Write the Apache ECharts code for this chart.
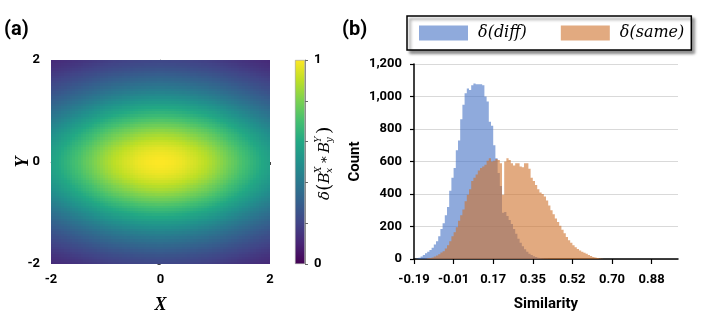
<!DOCTYPE html>
<html><head><meta charset="utf-8">
<script src="https://cdn.jsdelivr.net/npm/echarts@6/dist/echarts.min.js"></script>
<style>html,body{margin:0;padding:0;background:#fff}#c{width:708px;height:326px}</style>
</head><body><div id="c"></div>
<script>
// ---------- Panel (a): heat map, read as a product of two profiles (X row at Y=0, Y column at X=0) ----------
const cellStep = 0.05;
const cellCenters = Array.from({length:80}, (_, i) => -1.975 + i * cellStep);
const xProfile = [0.572,0.585,0.598,0.613,0.628,0.643,0.658,0.673,0.688,0.703,0.718,0.733,0.748,0.763,0.778,0.793,0.808,0.823,0.838,0.851,
  0.864,0.877,0.889,0.9,0.91,0.92,0.93,0.938,0.946,0.954,0.962,0.97,0.977,0.982,0.987,0.991,0.994,0.997,0.999,1.0,
  1.0,0.999,0.997,0.994,0.991,0.987,0.982,0.977,0.97,0.962,0.954,0.946,0.938,0.93,0.92,0.91,0.9,0.889,0.877,0.864,
  0.851,0.838,0.823,0.808,0.793,0.778,0.763,0.748,0.733,0.718,0.703,0.688,0.673,0.658,0.643,0.628,0.613,0.598,0.585,0.572];
const yProfile = [0.214,0.228,0.242,0.258,0.276,0.295,0.315,0.334,0.354,0.376,0.399,0.421,0.443,0.467,0.493,0.517,0.541,0.569,0.597,0.622,
  0.647,0.674,0.701,0.727,0.752,0.778,0.803,0.827,0.849,0.87,0.89,0.909,0.927,0.943,0.959,0.971,0.981,0.988,0.994,0.999,
  0.999,0.994,0.988,0.981,0.971,0.959,0.943,0.927,0.909,0.89,0.87,0.849,0.827,0.803,0.778,0.752,0.727,0.701,0.674,0.647,
  0.622,0.597,0.569,0.541,0.517,0.493,0.467,0.443,0.421,0.399,0.376,0.354,0.334,0.315,0.295,0.276,0.258,0.242,0.228,0.214];
const heatTickLabels = ['-2','0','2'];
const colorbarTickLabels = ['0','1'];

// ---------- Panel (b): histogram (120 bins from -0.19 to 1.00) ----------
const binStart = -0.19, binWidth = 1.19 / 120, binsPerTick = 18;
const simTickLabels = ['-0.19','-0.01','0.17','0.35','0.52','0.70','0.88'];
const diffCounts = [0,3,8,15,25,35,45,55,70,90,
  110,140,185,220,270,320,420,500,560,670,
  730,860,950,1020,1050,1040,1070,1080,1075,1075,
  1075,1070,1000,970,845,820,700,620,530,450,
  285,290,265,240,215,185,155,125,100,78,
  60,45,33,24,17,12,8,5,3,2,
  1,0,0,0,0,0,0,0,0,0,
  0,0,0,0,0,0,0,0,0,0, 0,0,0,0,0,0,0,0,0,0, 0,0,0,0,0,0,0,0,0,0,
  0,0,0,0,0,0,0,0,0,0, 0,0,0,0,0,0,0,0,0,0];
const sameCounts = [0,0,0,0,0,2,4,6,10,15,
  22,30,40,48,65,85,110,140,165,195,
  235,270,305,355,395,430,480,500,520,545,
  560,570,580,605,620,600,605,615,610,590,
  395,600,620,610,590,575,590,590,570,565,
  590,590,555,500,480,455,430,410,400,385,
  360,330,300,275,250,228,205,180,158,135,
  115,100,85,72,62,52,45,38,32,24,
  18,13,9,6,3,1,0,0,0,0,
  0,0,0,0,0,0,0,0,0,0, 0,0,0,0,0,0,0,0,0,0, 0,0,0,0,0,0,0,0,0,0];
const seriesNames = ['δ(diff)','δ(same)'];

const viridis = ['#440154','#482475','#414487','#355f8d','#2a788e','#21918c','#22a884','#44bf70','#7ad151','#bddf26','#fde725'];
const BLUE = 'rgba(68,114,196,0.6)', ORANGE = 'rgba(207,113,43,0.6)';

const simTickValues = simTickLabels.map((_, k) => binStart + k * binsPerTick * binWidth);
const binEnd = binStart + diffCounts.length * binWidth;
const cells = [];
for (let i = 0; i < cellCenters.length; i++)
  for (let j = 0; j < cellCenters.length; j++)
    cells.push([cellCenters[i], cellCenters[j], xProfile[i] * yProfile[j]]);
const half = cellStep / 2;

const LBL = {fontFamily:'Roboto', fontWeight:'bold', fontSize:13, color:'#000'};
const chart = echarts.init(document.getElementById('c'), null, {renderer:'canvas'});

const F = (sz, it) => (it ? 'italic ' : '') + sz + 'px "DejaVu Serif"';
function t(x, y, text, font) {
  return {type:'text', x:x, y:y, style:{text:text, font:font, fill:'#000', align:'left', textAlign:'left', verticalAlign:'middle', textVerticalAlign:'middle'}};
}
// histogram as one stepped polygon; bin edges and heights go through the axis scales
function histRender(counts, color) {
  return (params, api) => {
    const pts = [api.coord([binStart, 0])];
    counts.forEach((c, i) => {
      pts.push(api.coord([binStart + i * binWidth, c]), api.coord([binStart + (i + 1) * binWidth, c]));
    });
    pts.push(api.coord([binStart + counts.length * binWidth, 0]));
    return {type:'polygon', shape:{points:pts}, style:{fill:color, stroke:null, lineWidth:0}};
  };
}

chart.setOption({
  animation:false,
  grid:[
    {left:51, top:60, width:219, height:204},
    {left:295, top:60, width:10, height:204},
    {left:414, top:64, width:264, height:195}
  ],
  xAxis:[
    {gridIndex:0, type:'value', min:-2, max:2, interval:1,
     axisLine:{lineStyle:{color:'#8c8c8c', width:1}},
     axisTick:{show:true, length:3, lineStyle:{color:'#444'}},
     splitLine:{show:false}, splitArea:{show:false},
     axisLabel:Object.assign({margin:9, formatter:v => heatTickLabels.includes(String(v)) ? String(v) : ''}, LBL),
     name:'X', nameLocation:'middle', nameGap:32, nameMoveOverlap:false,
     nameTextStyle:{fontFamily:'Liberation Serif', fontStyle:'italic', fontWeight:'bold', fontSize:18, color:'#000'}},
    {gridIndex:1, type:'category', data:[''], show:false, splitLine:{show:false}},
    {gridIndex:2, type:'value', min:binStart, max:binEnd,
     splitLine:{show:false}, splitArea:{show:false},
     axisLine:{onZero:false, lineStyle:{color:'#000', width:1.5}},
     axisTick:{show:true, customValues:simTickValues, length:5, lineStyle:{color:'#000', width:1.2}},
     axisLabel:Object.assign({customValues:simTickValues, margin:14, showMinLabel:true, showMaxLabel:true,
       formatter:v => simTickLabels[Math.round((v - binStart) / (binsPerTick * binWidth))]}, LBL),
     name:'Similarity', nameLocation:'middle', nameGap:38, nameMoveOverlap:false,
     nameTextStyle:{fontFamily:'Roboto', fontWeight:'bold', fontSize:15, color:'#000'}}
  ],
  yAxis:[
    {gridIndex:0, type:'value', min:-2, max:2, interval:1,
     axisLine:{show:true, lineStyle:{color:'#8c8c8c', width:1}},
     axisTick:{show:true, length:3, lineStyle:{color:'#444'}},
     splitLine:{show:false}, splitArea:{show:false},
     axisLabel:Object.assign({margin:11, formatter:v => heatTickLabels.includes(String(v)) ? String(v) : ''}, LBL),
     name:'Y', nameLocation:'middle', nameGap:19, nameRotate:90, nameMoveOverlap:false,
     nameTextStyle:{fontFamily:'Liberation Serif', fontStyle:'italic', fontWeight:'bold', fontSize:18, color:'#000'}},
    {gridIndex:1, type:'value', min:0, max:1, interval:0.2, position:'right',
     axisLine:{show:true, lineStyle:{color:'#8c8c8c', width:1}},
     axisTick:{show:true, length:3, lineStyle:{color:'#666'}},
     splitLine:{show:false},
     axisLabel:Object.assign({margin:9, formatter:v => colorbarTickLabels.includes(String(v)) ? String(v) : ''}, LBL)},
    {gridIndex:2, type:'value', min:0, max:1200, interval:200,
     axisLine:{show:true, onZero:false, lineStyle:{color:'#000', width:1.5}},
     axisTick:{show:true, length:4, lineStyle:{color:'#000', width:1.2}},
     splitLine:{show:true, lineStyle:{color:'#d9d9d9', width:1}},
     axisLabel:Object.assign({margin:12, formatter:v => v.toLocaleString('en-US')}, LBL),
     name:'Count', nameLocation:'middle', nameGap:51, nameRotate:90, nameMoveOverlap:false,
     nameTextStyle:{fontFamily:'Roboto', fontWeight:'bold', fontSize:15, color:'#000'}}
  ],
  visualMap:{type:'continuous', show:false, min:0, max:1, dimension:2, seriesIndex:0, inRange:{color:viridis}},
  legend:{
    left:407, top:16, orient:'horizontal', padding:[9,7,9,12], itemGap:34,
    itemWidth:49, itemHeight:15, icon:'rect',
    data:seriesNames,
    backgroundColor:'#fff', borderColor:'#000', borderWidth:1.5, borderRadius:0,
    shadowColor:'rgba(0,0,0,0.45)', shadowBlur:3, shadowOffsetX:3, shadowOffsetY:3,
    textStyle:{fontFamily:'DejaVu Serif', fontStyle:'italic', fontSize:16, color:'#000', padding:[0,0,0,5]}
  },
  series:[
    {type:'custom', xAxisIndex:0, yAxisIndex:0, data:cells, clip:true, silent:true,
     renderItem:(params, api) => {
       const x = api.value(0), y = api.value(1);
       const p1 = api.coord([x - half, y + half]);
       const p2 = api.coord([x + half, y - half]);
       const x0 = Math.floor(p1[0]), y0 = Math.floor(p1[1]);
       return {type:'rect', shape:{x:x0, y:y0, width:Math.ceil(p2[0]) - x0, height:Math.ceil(p2[1]) - y0},
               style:{fill:api.visual('color')}};
     }},
    {type:'bar', xAxisIndex:1, yAxisIndex:1, data:[1], barWidth:'100%', silent:true,
     itemStyle:{borderColor:'#9a9a9a', borderWidth:0.6,
       color:new echarts.graphic.LinearGradient(0,1,0,0, viridis.map((c,i)=>({offset:i/(viridis.length-1), color:c})))}},
    {type:'custom', name:seriesNames[0], xAxisIndex:2, yAxisIndex:2, data:[[binStart, 0]], silent:true,
     itemStyle:{color:BLUE}, renderItem:histRender(diffCounts, BLUE)},
    {type:'custom', name:seriesNames[1], xAxisIndex:2, yAxisIndex:2, data:[[binStart, 0]], silent:true,
     itemStyle:{color:ORANGE}, renderItem:histRender(sameCounts, ORANGE)}
  ],
  graphic:[
    {type:'text', left:4, top:20, style:{text:'(a)', font:'bold 20px Roboto', fill:'#000'}},
    {type:'text', left:342, top:20, style:{text:'(b)', font:'bold 20px Roboto', fill:'#000'}},
    {type:'group', x:325, y:163, rotation:Math.PI/2, children:[
      t(-37, 0, 'δ', F(15,true)),
      t(-28, 0, '(', F(19,false)),
      t(-20.5, 0, 'B', F(15,true)),
      t(-10, 5, 'x', F(9,true)),
      t(-10, -6, 'X', F(9,true)),
      t(-1, 0, '∗', F(13,false)),
      t(10, 0, 'B', F(15,true)),
      t(20.5, 5, 'y', F(9,true)),
      t(20.5, -6, 'Y', F(9,true)),
      t(29, 0, ')', F(19,false))
    ]}
  ]
});
</script></body></html>
